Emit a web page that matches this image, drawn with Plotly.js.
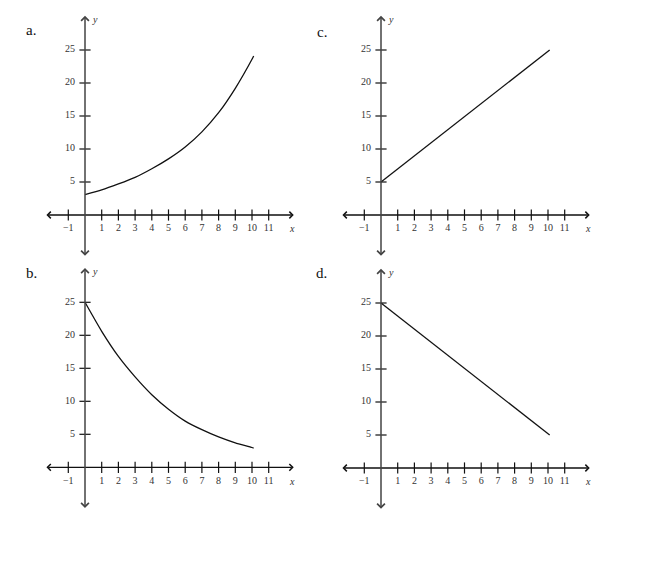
<!DOCTYPE html>
<html>
<head>
<meta charset="utf-8">
<script src="https://cdn.plot.ly/plotly-3.0.1.min.js"></script>
<style>
  html, body { margin: 0; padding: 0; background: #fff; }
  #plot { width: 650px; height: 575px; }
</style>
</head>
<body>
<div id="plot"></div>
<script>
// tick positions and labels
const xTicks = [-1, 1, 2, 3, 4, 5, 6, 7, 8, 9, 10, 11];
const xTickText = ['\u22121', '1', '2', '3', '4', '5', '6', '7', '8', '9', '10', '11'];
const yTicks = [5, 10, 15, 20, 25];
const yTickText = ['5', '10', '15', '20', '25'];

// panel letters
const panelNames = ['a.', 'b.', 'c.', 'd.'];

// a. growing curve
const aX = [0, 1, 2, 3, 4, 5, 6, 7, 8, 9, 10, 10.1];
const aY = [3.1, 3.8, 4.7, 5.7, 7.0, 8.5, 10.3, 12.6, 15.5, 19.2, 23.6, 24.1];

// b. decaying curve
const bX = [0, 1, 2, 3, 4, 5, 6, 7, 8, 9, 10, 10.1];
const bY = [25, 20.6, 16.8, 13.7, 11.0, 8.8, 7.0, 5.7, 4.6, 3.7, 3.0, 2.9];

// c. rising line
const cX = [0, 10.1];
const cY = [5, 25];

// d. falling line
const dX = [0, 10.1];
const dY = [25, 5];

const series = [[aX, aY], [bX, bY], [cX, cY], [dX, dY]];

const W = 650, H = 575;
// pixel origin of each panel (a, b, c, d)
const origins = [[85, 215], [85, 467.3], [381, 215], [381, 468]];
const pxX = 16.7, pxY = 6.6;
const xr = [-3, 13], yr = [-7, 31];

const font = 'Liberation Serif';
const traces = [];
const annotations = [];
const layout = {
  width: W, height: H,
  margin: {l: 0, r: 0, t: 0, b: 0},
  paper_bgcolor: '#fff', plot_bgcolor: 'rgba(0,0,0,0)',
  showlegend: false,
  font: {family: font, color: '#222'}
};

origins.forEach(function(o, i) {
  const n = i === 0 ? '' : String(i + 1);
  const xa = 'x' + n, ya = 'y' + n;

  const x0 = o[0] + xr[0] * pxX, x1 = o[0] + xr[1] * pxX;
  const yTop = o[1] - yr[1] * pxY, yBot = o[1] - yr[0] * pxY;
  layout['xaxis' + n] = {
    domain: [x0 / W, x1 / W], range: xr, visible: false, fixedrange: true, anchor: ya
  };
  layout['yaxis' + n] = {
    domain: [1 - yBot / H, 1 - yTop / H], range: yr, visible: false, fixedrange: true, anchor: xa
  };

  // tick marks crossing the axes
  traces.push({
    x: xTicks, y: xTicks.map(function() { return 0; }),
    xaxis: xa, yaxis: ya, mode: 'markers', type: 'scatter',
    marker: {symbol: 'line-ns', size: 8, line: {width: 1.2, color: '#111'}},
    hoverinfo: 'skip', cliponaxis: false
  });
  traces.push({
    x: yTicks.map(function() { return 0; }), y: yTicks,
    xaxis: xa, yaxis: ya, mode: 'markers', type: 'scatter',
    marker: {symbol: 'line-ew', size: 8, line: {width: 1.2, color: '#111'}},
    hoverinfo: 'skip', cliponaxis: false
  });
  // tick labels
  traces.push({
    x: xTicks, y: xTicks.map(function() { return -2.1; }),
    xaxis: xa, yaxis: ya, mode: 'text', type: 'scatter',
    text: xTickText, textposition: 'middle center',
    textfont: {family: font, size: 10, color: '#333'},
    hoverinfo: 'skip', cliponaxis: false
  });
  traces.push({
    x: yTicks.map(function() { return -0.6; }), y: yTicks,
    xaxis: xa, yaxis: ya, mode: 'text', type: 'scatter',
    text: yTickText, textposition: 'middle left',
    textfont: {family: font, size: 10, color: '#333'},
    hoverinfo: 'skip', cliponaxis: false
  });

  // the graph itself
  traces.push({
    x: series[i][0], y: series[i][1],
    xaxis: xa, yaxis: ya, mode: 'lines', type: 'scatter',
    line: {color: '#111', width: 1.3, shape: 'spline', smoothing: 0.6},
    hoverinfo: 'skip'
  });

  // axes with arrows at both ends
  annotations.push({
    xref: xa, yref: ya, axref: xa, ayref: ya,
    x: 12.5, y: 0, ax: -2.4, ay: 0, text: '', showarrow: true,
    arrowside: 'end+start', arrowhead: 4, arrowsize: 1, arrowwidth: 1.3, arrowcolor: '#111'
  });
  annotations.push({
    xref: xa, yref: ya, axref: xa, ayref: ya,
    x: 0, y: 30.2, ax: 0, ay: -6.4, text: '', showarrow: true,
    arrowside: 'end+start', arrowhead: 4, arrowsize: 1, arrowwidth: 1.5, arrowcolor: '#444'
  });

  // axis names
  annotations.push({
    xref: xa, yref: ya, x: 0.6, y: 29.6, text: '<i>y</i>', showarrow: false,
    font: {family: font, size: 10, color: '#333'}
  });
  annotations.push({
    xref: xa, yref: ya, x: 12.4, y: -2.1, text: '<i>x</i>', showarrow: false,
    font: {family: font, size: 10, color: '#333'}
  });
});

// panel letters
const letterPos = [[24, 20], [24, 273], [322, 22], [321, 273]];
panelNames.forEach(function(t, i) {
  annotations.push({
    xref: 'paper', yref: 'paper',
    x: letterPos[i][0] / W, y: 1 - letterPos[i][1] / H,
    text: t, showarrow: false,
    font: {family: font, size: 15, color: '#111'}
  });
});

layout.annotations = annotations;

Plotly.newPlot('plot', traces, layout, {staticPlot: true});
</script>
</body>
</html>
